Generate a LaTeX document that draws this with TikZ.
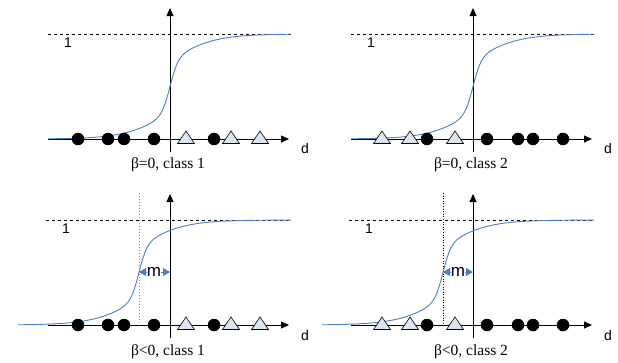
\documentclass[tikz,border=0pt]{standalone}
\usepackage{fontspec}
\setmainfont{Liberation Serif}
\setsansfont{Liberation Sans}
\usetikzlibrary{arrows.meta,shapes.geometric}
\definecolor{curveblue}{HTML}{4A7EC8}
\definecolor{trifill}{HTML}{DCE6F2}

\begin{document}
\begin{tikzpicture}[x=1pt, y=-1pt,
    axis/.style={line width=0.8pt, -{Triangle[length=8pt,width=7pt]}},
    unity/.style={dashed, line width=0.6pt},
    sigm/.style={curveblue, line width=0.9pt},
    guide/.style={dotted, line width=1pt},
    marr/.style={curveblue, line width=0.8pt, -{Triangle[length=7pt,width=8pt]}},
    dot/.style={circle, fill=black, inner sep=0pt, minimum size=12.5pt},
    tri/.style={isosceles triangle, shape border rotate=90,
                isosceles triangle stretches, draw, line width=0.6pt,
                fill=trifill, inner sep=0pt, minimum width=17pt, minimum height=12.5pt},
    lbl/.style={font=\sffamily\fontsize{14}{14}\selectfont, inner sep=0pt},
    mlbl/.style={font=\sffamily\fontsize{17}{17}\selectfont, inner sep=0pt},
    captxt/.style={font=\fontsize{15.5}{16}\selectfont, inner sep=0pt},
    declare function={sg(\t)=0.5/(1+exp(min(9,-0.25*\t)))+0.5/(1+exp(-0.045*\t));}]
  \useasboundingbox (0,0) rectangle (618,362);

  % beta = 0, class 1
  \begin{scope}[shift={(170,139)}]
    \coordinate (a-l) at (-122,0); \coordinate (a-r) at (119,0);
    \coordinate (a-b) at (0,13);   \coordinate (a-t) at (0,-131);
    \draw[axis] (a-l) -- (a-r);
    \draw[axis] (a-b) -- (a-t);
    \draw[unity] (-122,-105) -- (121,-105);
    \draw[sigm] plot[domain=-122:121, samples=120] (\x, {-105*sg(\x)});
    \foreach \p [count=\i] in {-92,-62,-46,-16,44}
      \node[dot] (a-c\i) at (\p,0) {};
    \foreach \p [count=\i] in {16,61,90}
      \node[tri] (a-t\i) at (\p,0) {};
    \node[lbl] (a-one) at (-102,-96) {1};
    \node[lbl] (a-d) at (135,9) {d};
    \node[captxt] (a-cap) at (-2,26) {β=0, class 1};
  \end{scope}

  % beta = 0, class 2
  \begin{scope}[shift={(473,139)}]
    \coordinate (b-l) at (-122,0); \coordinate (b-r) at (119,0);
    \coordinate (b-b) at (0,13);   \coordinate (b-t) at (0,-131);
    \draw[axis] (b-l) -- (b-r);
    \draw[axis] (b-b) -- (b-t);
    \draw[unity] (-122,-105) -- (121,-105);
    \draw[sigm] plot[domain=-122:121, samples=120] (\x, {-105*sg(\x)});
    \foreach \p [count=\i] in {-46,14,45,60,90}
      \node[dot] (b-c\i) at (\p,0) {};
    \foreach \p [count=\i] in {-91,-63,-18}
      \node[tri] (b-t\i) at (\p,0) {};
    \node[lbl] (b-one) at (-102,-96) {1};
    \node[lbl] (b-d) at (135,9) {d};
    \node[captxt] (b-cap) at (-2,26) {β=0, class 2};
  \end{scope}

  % beta < 0, class 1
  \begin{scope}[shift={(170,325)}]
    \coordinate (c-l) at (-122,0); \coordinate (c-r) at (119,0);
    \coordinate (c-b) at (0,13);   \coordinate (c-t) at (0,-131);
    \draw[axis] (c-l) -- (c-r);
    \draw[axis] (c-b) -- (c-t);
    \draw[unity] (-124,-105) -- (120,-105);
    \draw[guide, black!45] (-31,-132) -- (-31,0);
    \draw[sigm] plot[domain=-152:121, samples=130] (\x, {-105*sg(\x+31)});
    \foreach \p [count=\i] in {-92,-62,-46,-16,44}
      \node[dot] (c-c\i) at (\p,0) {};
    \foreach \p [count=\i] in {16,61,90}
      \node[tri] (c-t\i) at (\p,0) {};
    \node[mlbl] (c-m) at (-16,-53) {m};
    \draw[marr] (c-m.west) -- (-31,-53);
    \draw[marr] (c-m.east) -- (0,-53);
    \node[lbl] (c-one) at (-104,-96) {1};
    \node[lbl] (c-d) at (135,10) {d};
    \node[captxt] (c-cap) at (-2,27) {β<0, class 1};
  \end{scope}

  % beta < 0, class 2
  \begin{scope}[shift={(473,325)}]
    \coordinate (d-l) at (-122,0); \coordinate (d-r) at (119,0);
    \coordinate (d-b) at (0,13);   \coordinate (d-t) at (0,-131);
    \draw[axis] (d-l) -- (d-r);
    \draw[axis] (d-b) -- (d-t);
    \draw[unity] (-124,-105) -- (120,-105);
    \draw[guide, line width=0.6pt] (-30,-132) -- (-30,0);
    \draw[sigm] plot[domain=-151:121, samples=130] (\x, {-105*sg(\x+30)});
    \foreach \p [count=\i] in {-46,14,45,60,90}
      \node[dot] (d-c\i) at (\p,0) {};
    \foreach \p [count=\i] in {-91,-63,-18}
      \node[tri] (d-t\i) at (\p,0) {};
    \node[mlbl] (d-m) at (-15,-53) {m};
    \draw[marr] (d-m.west) -- (-30,-53);
    \draw[marr] (d-m.east) -- (0,-53);
    \node[lbl] (d-one) at (-104,-96) {1};
    \node[lbl] (d-d) at (135,10) {d};
    \node[captxt] (d-cap) at (-2,27) {β<0, class 2};
  \end{scope}
\end{tikzpicture}
\end{document}
